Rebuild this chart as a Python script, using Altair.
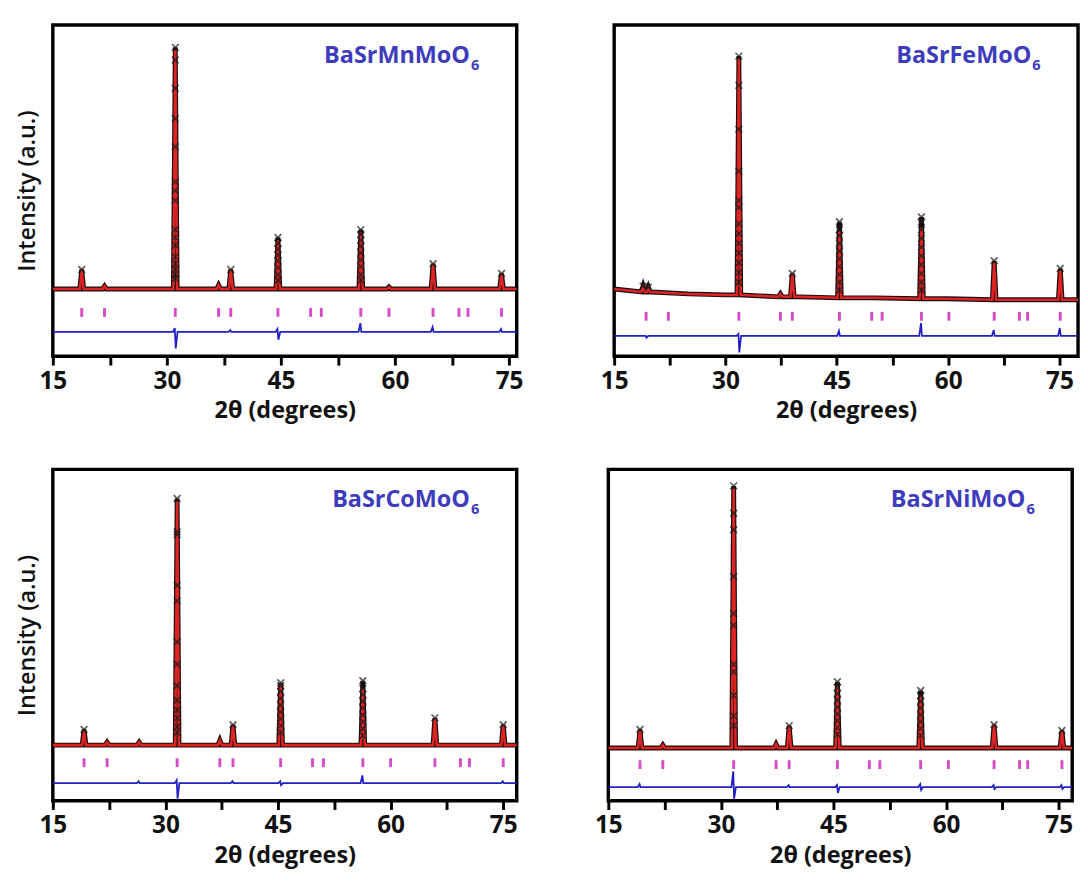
import altair as alt
import pandas as pd

X_TICKS = [15, 22.5, 30, 37.5, 45, 52.5, 60, 67.5, 75]

# ---------------- BaSrMnMoO6 (top left) ----------------
mn_label = "BaSrMnMoO"
mn_bragg = [18.8, 21.8, 31.1, 36.8, 38.4, 44.6, 48.9, 50.3, 55.5, 59.2, 65.0, 68.4, 69.6, 74.0]
mn_bg_x = [15, 76]
mn_bg_y = [0, 0]
mn_peak_pos = [18.8, 21.8, 31.1, 36.8, 38.4, 44.6, 55.5, 59.2, 65.0, 74.0]
mn_peak_base = [0, 0, 0, 0, 0, 0, 0, 0, 0, 0]
mn_peak_calc = [19, 3, 245, 4, 19, 50, 58, 2, 25, 15]
mn_peak_obs = [20, 3, 248, 4, 20, 53, 61, 2, 26, 16]
mn_stack_pos = [31.1, 44.6, 55.5]
mn_stack_obs = [
    [248, 235, 206, 175, 146, 110, 101, 91, 61, 53, 45, 33, 26, 20, 15, 11],
    [53, 47, 41, 35, 29, 22, 15, 9],
    [61, 56, 50, 44, 37, 30, 23, 15, 9],
]
mn_diff_pos = [31.1, 38.4, 44.6, 55.5, 65.0, 74.0]
mn_diff_up = [4, 2, 3, 9, 5, 3]
mn_diff_down = [-17, 0, -8, 0, 0, 0]

# ---------------- BaSrFeMoO6 (top right) ----------------
fe_label = "BaSrFeMoO"
fe_bragg = [19.3, 22.3, 31.8, 37.4, 39.0, 45.35, 49.7, 51.1, 56.4, 60.1, 66.2, 69.6, 70.7, 75.1]
fe_bg_x = [15, 20, 25, 30, 40, 50, 60, 77.5]
fe_bg_y = [11, 8, 6, 5, 3, 2, 1, 0]
fe_peak_pos = [18.9, 19.6, 31.8, 37.4, 39.0, 45.35, 56.4, 66.2, 75.1]
fe_peak_base = [8, 8, 5, 3, 3, 2, 1, 0, 0]
fe_peak_calc = [13, 12, 247, 6, 26, 70, 74, 38, 30]
fe_peak_obs = [14, 13, 250, 6, 27, 80, 85, 40, 32]
fe_stack_pos = [31.8, 45.35, 56.4]
fe_stack_obs = [
    [250, 220, 175, 132, 102, 95, 78, 68, 58, 48, 38, 28, 18],
    [80, 72, 66, 58, 50, 42, 34, 26, 18, 10],
    [85, 80, 72, 63, 54, 45, 36, 27, 18, 10],
]
fe_diff_pos = [19.3, 31.8, 45.35, 56.4, 66.2, 75.1]
fe_diff_up = [0, 2, 5, 13, 6, 8]
fe_diff_down = [-2, -17, 0, 0, 0, 0]

# ---------------- BaSrCoMoO6 (bottom left) ----------------
co_label = "BaSrCoMoO"
co_bragg = [19.16, 22.23, 31.56, 37.25, 39.0, 45.35, 49.6, 51.05, 56.3, 60.0, 65.9, 69.3, 70.5, 75.0]
co_bg_x = [15, 76.8]
co_bg_y = [0, 0]
co_peak_pos = [19.16, 22.23, 26.5, 31.56, 37.25, 39.0, 45.35, 56.3, 65.9, 75.0]
co_peak_base = [0, 0, 0, 0, 0, 0, 0, 0, 0, 0]
co_peak_calc = [14, 3, 3, 250, 5, 20, 63, 58, 27, 20]
co_peak_obs = [16, 3, 3, 253, 5, 21, 64, 66, 28, 21]
co_stack_pos = [31.56, 45.35, 56.3]
co_stack_obs = [
    [253, 219, 216, 164, 148, 106, 83, 61, 46, 36, 28, 19, 13],
    [64, 61, 55, 48, 41, 34, 27, 20, 13],
    [66, 58, 52, 45, 38, 31, 24, 17, 10],
]
co_diff_pos = [26.5, 31.56, 39.0, 45.35, 56.3, 75.0]
co_diff_up = [2, 3, 2, 2, 8, 2]
co_diff_down = [0, -16, 0, -2, 0, 0]

# ---------------- BaSrNiMoO6 (bottom right) ----------------
ni_label = "BaSrNiMoO"
ni_bragg = [19.22, 22.26, 31.70, 37.35, 39.09, 45.52, 49.78, 51.17, 56.61, 60.31, 66.39, 69.78, 70.87, 75.43]
ni_bg_x = [15, 76.8]
ni_bg_y = [0, 0]
ni_peak_pos = [19.22, 22.26, 31.70, 37.35, 39.09, 45.52, 56.61, 66.39, 75.43]
ni_peak_base = [0, 0, 0, 0, 0, 0, 0, 0, 0]
ni_peak_calc = [18, 3, 266, 4, 22, 64, 54, 23, 17]
ni_peak_obs = [19, 3, 269, 4, 23, 68, 59, 24, 18]
ni_stack_pos = [31.70, 45.52, 56.61]
ni_stack_obs = [
    [269, 241, 224, 176, 138, 126, 86, 78, 54, 33, 23],
    [68, 62, 56, 49, 42, 35, 28, 21, 14],
    [59, 54, 48, 41, 34, 27, 20, 13],
]
ni_diff_pos = [19.22, 31.70, 39.09, 45.52, 56.61, 66.39, 75.43]
ni_diff_up = [3, 16, 2, 2, 3, 2, 2]
ni_diff_down = [0, -12, 0, -6, -3, -2, -2]

# ---------------- layout / style ----------------
FONT = "Open Sans"
RED = "#dc2424"
OBS = "#1c0c0c"
MAGENTA = "#d64cc8"
BLUE = "#2020c4"
LABEL_BLUE = "#3c3cbc"
HALF_W = 0.25
PANEL_W = 476


def profile_df(bg_x, bg_y, pos, base, top):
    rows = list(zip(bg_x, bg_y))
    for p, b, t in zip(pos, base, top):
        rows += [(p - HALF_W, b), (p, t), (p + HALF_W, b)]
    rows.sort()
    return pd.DataFrame(rows, columns=["tt", "I"])


def diff_df(xmax, pos, up, down, level):
    rows = [(15, level), (xmax, level)]
    for p, u, d in zip(pos, up, down):
        rows += [(p - 0.3, level), (p - 0.06, level + u), (p + 0.06, level + d), (p + 0.3, level)]
    rows.sort()
    return pd.DataFrame(rows, columns=["tt", "I"])


def markers_df(pos, obs, stack_pos, stack_obs):
    rows = []
    for p, vals in zip(stack_pos, stack_obs):
        rows += [(p, v) for v in vals]
    for p, o in zip(pos, obs):
        if p not in stack_pos and o > 10:
            rows.append((p, o))
    return pd.DataFrame(rows, columns=["tt", "I"])


def panel(label, bragg, bg_x, bg_y, pos, base, calc, obs, stack_pos, stack_obs,
          dpos, dup, ddown, xmax, ydom, bragg_lvl, diff_lvl, height, left):
    W = PANEL_W
    xaxis = alt.Axis(
        values=X_TICKS,
        labelExpr="datum.value % 15 == 0 ? datum.label : ''",
        title="2θ (degrees)",
        grid=False, domain=False,
        tickSize=9, tickWidth=3, tickColor="black",
        labelFont=FONT, labelFontSize=25, labelFontWeight="bold", labelColor="#111",
        labelPadding=4, labelFlush=False,
        titleFont=FONT, titleFontSize=24, titleFontWeight="bold", titleColor="#111",
        titlePadding=6,
    )
    yaxis = alt.Axis(
        title="Intensity (a.u.)", labels=False, ticks=False, domain=False, grid=False,
        titleFont=FONT, titleFontSize=24, titleFontWeight=600, titleColor="#111",
        titlePadding=14,
    ) if left else None
    x = alt.X("tt:Q", scale=alt.Scale(domain=[15, xmax], nice=False, zero=False), axis=xaxis)
    y = alt.Y("I:Q", scale=alt.Scale(domain=ydom, nice=False, zero=False), axis=yaxis)

    obs_line = alt.Chart(profile_df(bg_x, bg_y, pos, base, obs)).mark_line(
        color=OBS, strokeWidth=5, clip=True).encode(x=x, y=y)
    calc_line = alt.Chart(profile_df(bg_x, bg_y, pos, base, calc)).mark_line(
        color=RED, strokeWidth=2.6, clip=True).encode(x=x, y=y)
    pts = alt.Chart(markers_df(pos, obs, stack_pos, stack_obs)).mark_point(
        shape="M-1,-1L1,1M-1,1L1,-1", size=48, filled=False, stroke="#1a1a1a",
        strokeWidth=1.7, clip=True).encode(x=x, y=y)
    bragg_df = pd.DataFrame({"tt": bragg})
    ticks = alt.Chart(bragg_df).mark_rule(color=MAGENTA, strokeWidth=3).encode(
        x=x, y=alt.datum(bragg_lvl - 4.5), y2=alt.datum(bragg_lvl + 4.5))
    diff = alt.Chart(diff_df(xmax, dpos, dup, ddown, diff_lvl)).mark_line(
        color=BLUE, strokeWidth=1.8, clip=True).encode(x=x, y=y)
    name_df = pd.DataFrame({"name": [label], "sub": ["6"]})
    name = alt.Chart(name_df).mark_text(
        align="right", baseline="middle", font=FONT, fontSize=24, fontWeight="bold",
        color=LABEL_BLUE).encode(text="name:N", x=alt.value(W - 48), y=alt.value(32))
    sub = alt.Chart(name_df).mark_text(
        align="left", baseline="middle", font=FONT, fontSize=15, fontWeight="bold",
        color=LABEL_BLUE).encode(text="sub:N", x=alt.value(W - 47), y=alt.value(41))
    return alt.layer(obs_line, calc_line, pts, diff, ticks, name, sub).properties(
        width=W, height=height)


tl = panel(mn_label, mn_bragg, mn_bg_x, mn_bg_y, mn_peak_pos, mn_peak_base, mn_peak_calc,
           mn_peak_obs, mn_stack_pos, mn_stack_obs, mn_diff_pos, mn_diff_up, mn_diff_down,
           76, [-69, 271], -24, -44, 340, True)
tr = panel(fe_label, fe_bragg, fe_bg_x, fe_bg_y, fe_peak_pos, fe_peak_base, fe_peak_calc,
           fe_peak_obs, fe_stack_pos, fe_stack_obs, fe_diff_pos, fe_diff_up, fe_diff_down,
           77.5, [-58, 282], -17, -37, 340, False)
bl = panel(co_label, co_bragg, co_bg_x, co_bg_y, co_peak_pos, co_peak_base, co_peak_calc,
           co_peak_obs, co_stack_pos, co_stack_obs, co_diff_pos, co_diff_up, co_diff_down,
           76.8, [-57, 283], -18, -39, 340, True)
br = panel(ni_label, ni_bragg, ni_bg_x, ni_bg_y, ni_peak_pos, ni_peak_base, ni_peak_calc,
           ni_peak_obs, ni_stack_pos, ni_stack_obs, ni_diff_pos, ni_diff_up, ni_diff_down,
           76.8, [-54, 286], -17, -40, 340, False)

chart = alt.vconcat(
    alt.hconcat(tl, tr, spacing=74),
    alt.hconcat(bl, br, spacing=74),
    spacing=44,
).properties(
    padding={"left": 6, "top": 4, "right": 0, "bottom": 0},
    background="white",
).configure_view(
    stroke="black", strokeWidth=3.5
)

chart.save("out.html", embed_options={"renderer": "svg", "actions": False})
